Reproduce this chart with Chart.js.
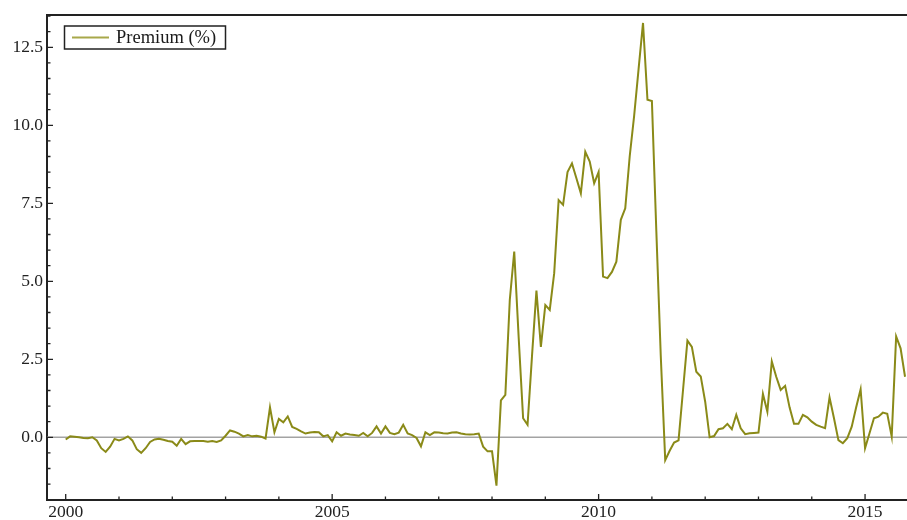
<!DOCTYPE html>
<html>
<head>
<meta charset="utf-8">
<script src="https://cdn.jsdelivr.net/npm/chart.js@4.4.1/dist/chart.umd.min.js"></script>
<style>
  html, body { margin: 0; padding: 0; background: #ffffff; }
  #wrap { width: 907px; height: 520px; }
</style>
</head>
<body>
<div id="wrap"><canvas id="premiumChart"></canvas></div>
<script>
// monthly series, first value = Jan 2000
const startYear = 2000;
const premium = [
  -0.07, 0.03, 0.02, 0.0, -0.02, -0.03, 0.0, -0.1, -0.35, -0.47, -0.3, -0.05,
  -0.1, -0.05, 0.03, -0.1, -0.38, -0.5, -0.35, -0.15, -0.07, -0.05, -0.08, -0.12,
  -0.14, -0.27, -0.05, -0.22, -0.13, -0.12, -0.12, -0.12, -0.14, -0.12, -0.15, -0.1,
  0.05, 0.22, 0.18, 0.12, 0.03, 0.07, 0.03, 0.05, 0.02, -0.04, 0.96, 0.16,
  0.59, 0.48, 0.67, 0.33, 0.27, 0.19, 0.12, 0.15, 0.17, 0.16, 0.03, 0.07,
  -0.13, 0.16, 0.05, 0.12, 0.09, 0.07, 0.05, 0.14, 0.03, 0.14, 0.35, 0.12,
  0.35, 0.14, 0.1, 0.15, 0.4, 0.12, 0.07, -0.02, -0.29, 0.16, 0.07, 0.16,
  0.15, 0.13, 0.12, 0.15, 0.16, 0.12, 0.1, 0.09, 0.1, 0.12, -0.3, -0.45,
  -0.45, -1.55, 1.18, 1.36, 4.4, 5.95, 3.2, 0.61, 0.4, 2.6, 4.7, 2.9,
  4.24, 4.08, 5.26, 7.6, 7.45, 8.5, 8.78, 8.3, 7.82, 9.15, 8.84, 8.14,
  8.5, 5.15, 5.1, 5.3, 5.63, 6.97, 7.34, 9.0, 10.3, 11.8, 13.28, 10.82,
  10.78, 6.6, 2.6, -0.73, -0.43, -0.17, -0.1, 1.5, 3.1, 2.9, 2.1, 1.95,
  1.14, 0.0, 0.04, 0.26, 0.29, 0.43, 0.26, 0.72, 0.29, 0.1, 0.13, 0.14,
  0.15, 1.39, 0.82, 2.43, 1.94, 1.52, 1.65, 0.96, 0.43, 0.43, 0.72, 0.64,
  0.5, 0.4, 0.34, 0.29, 1.28, 0.61, -0.09, -0.19, -0.03, 0.34, 0.96, 1.54,
  -0.35, 0.13, 0.61, 0.66, 0.79, 0.75, 0.02, 3.23, 2.85, 1.94
];
const xTicks = [2000, 2005, 2010, 2015];
const yTicks = [0.0, 2.5, 5.0, 7.5, 10.0, 12.5];
const serieLabel = 'Premium (%)';

const lineColor = '#8a8a18';
const serif = '"Liberation Serif", "DejaVu Serif", serif';

const pontos = premium.map((v, i) => ({ x: startYear + i / 12, y: v }));

// zero line, frame top, inward ticks, boxed legend
const extras = {
  id: 'extras',
  beforeDatasetsDraw(chart) {
    const { ctx, chartArea, scales } = chart;
    const y0 = scales.y.getPixelForValue(0);
    ctx.save();
    ctx.strokeStyle = '#a3a3a3';
    ctx.lineWidth = 1.5;
    ctx.beginPath();
    ctx.moveTo(chartArea.left, y0);
    ctx.lineTo(chartArea.right, y0);
    ctx.stroke();
    ctx.restore();
  },
  afterDraw(chart) {
    const { ctx, chartArea, scales } = chart;
    const x = scales.x, y = scales.y;
    ctx.save();
    ctx.strokeStyle = '#222';
    ctx.lineWidth = 2;
    ctx.beginPath();
    ctx.moveTo(chartArea.left, chartArea.top);
    ctx.lineTo(chartArea.right, chartArea.top);
    ctx.stroke();

    ctx.lineWidth = 1.3;
    ctx.beginPath();
    for (let yr = 2000; yr <= 2015; yr++) {
      const px = x.getPixelForValue(yr);
      const len = yr % 5 === 0 ? 6 : 3.5;
      ctx.moveTo(px, chartArea.bottom);
      ctx.lineTo(px, chartArea.bottom - len);
    }
    for (let k = -4; k <= 27; k++) {
      const v = k * 0.5;
      const py = y.getPixelForValue(v);
      if (py < chartArea.top || py > chartArea.bottom) continue;
      const len = k % 5 === 0 ? 6 : 3.5;
      ctx.moveTo(chartArea.left, py);
      ctx.lineTo(chartArea.left + len, py);
    }
    ctx.stroke();

    // legend
    const bx = 64.5, by = 26, bw = 161, bh = 23;
    ctx.fillStyle = '#ffffff';
    ctx.fillRect(bx, by, bw, bh);
    ctx.strokeStyle = '#222';
    ctx.lineWidth = 1.5;
    ctx.strokeRect(bx, by, bw, bh);
    ctx.strokeStyle = '#a8a84a';
    ctx.lineWidth = 2;
    ctx.beginPath();
    ctx.moveTo(72, by + bh / 2);
    ctx.lineTo(109, by + bh / 2);
    ctx.stroke();
    ctx.fillStyle = '#1a1a1a';
    ctx.font = '18.5px ' + serif;
    ctx.textBaseline = 'middle';
    ctx.textAlign = 'left';
    ctx.fillText(serieLabel, 116, by + bh / 2 + 1);
    ctx.restore();
  }
};

const ctx = document.getElementById('premiumChart').getContext('2d');
const grafico = new Chart(ctx, {
  type: 'line',
  data: {
    datasets: [{
      label: serieLabel,
      data: pontos,
      borderColor: lineColor,
      backgroundColor: lineColor,
      borderWidth: 2,
      pointRadius: 0,
      tension: 0,
      fill: false
    }]
  },
  options: {
    responsive: true,
    maintainAspectRatio: false,
    animation: false,
    layout: { padding: { top: 15, left: 0, right: 0, bottom: 0 } },
    plugins: {
      legend: { display: false },
      tooltip: { enabled: false }
    },
    scales: {
      x: {
        type: 'linear',
        min: 1999.649,
        max: 2015.787,
        afterBuildTicks: s => { s.ticks = xTicks.map(v => ({ value: v })); },
        afterFit: s => { s.height = 20; },
        grid: { display: false, drawTicks: false },
        border: { display: true, color: '#222', width: 2 },
        ticks: {
          color: '#222',
          padding: 2,
          maxRotation: 0,
          font: { family: serif, size: 17.5 },
          callback: v => String(v)
        }
      },
      y: {
        min: -2.01,
        max: 13.535,
        afterBuildTicks: s => { s.ticks = yTicks.map(v => ({ value: v })); },
        afterFit: s => { s.width = 47; },
        grid: { display: false, drawTicks: false },
        border: { display: true, color: '#222', width: 2 },
        ticks: {
          color: '#222',
          padding: 4,
          font: { family: serif, size: 17.5 },
          callback: v => v.toFixed(1)
        }
      }
    }
  },
  plugins: [extras]
});
</script>
</body>
</html>
